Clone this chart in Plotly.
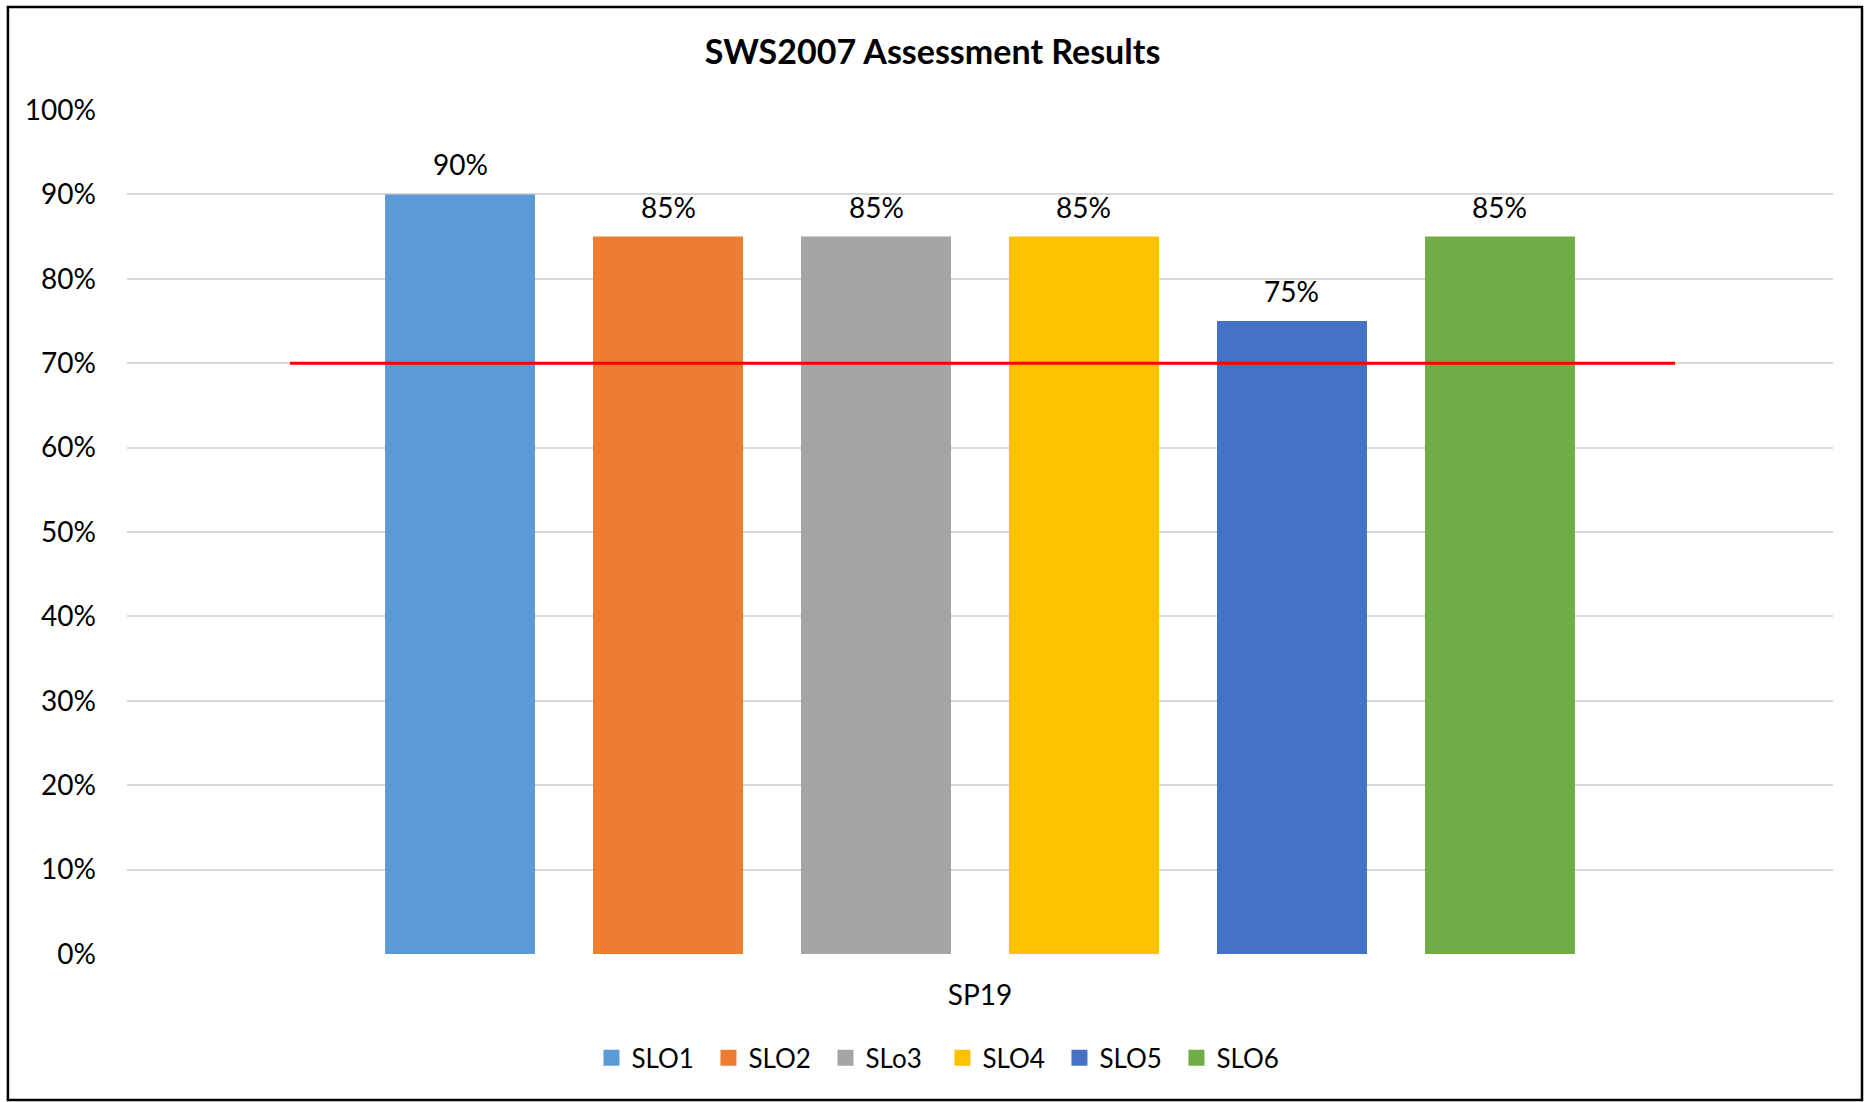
import plotly.graph_objects as go

TITLE = "SWS2007 Assessment Results"
CATEGORY = ["SP19"]
SERIES = ["SLO1", "SLO2", "SLo3", "SLO4", "SLO5", "SLO6"]
VALUES = [0.90, 0.85, 0.85, 0.85, 0.75, 0.85]
TARGET = 0.70
Y_TICKS = [0, 0.1, 0.2, 0.3, 0.4, 0.5, 0.6, 0.7, 0.8, 0.9, 1.0]

COLORS = ["#5B9BD5", "#ED7D31", "#A5A5A5", "#FFC000", "#4472C4", "#70AD47"]
FONT = "Lato, 'Open Sans', sans-serif"

W, H = 1865, 1102
ML, MR, MT, MB = 127, 32, 110, 148
BARGAP = 0.2685
# pixel width of one bar slot inside the group, used to place value labels
slot = (W - ML - MR) * (1 - BARGAP) / len(SERIES)

fig = go.Figure()

for i, (name, val, color) in enumerate(zip(SERIES, VALUES, COLORS)):
    fig.add_trace(go.Bar(
        x=CATEGORY, y=[val], name=name, showlegend=False,
        marker=dict(color=color, line=dict(width=0)),
    ))
    # legend entry with a square swatch
    fig.add_trace(go.Scatter(
        x=[None], y=[None], name=name, mode="markers",
        marker=dict(symbol="square", size=18, color=color),
    ))
    fig.add_annotation(
        x=CATEGORY[0], y=val, text=f"{val:.0%}", showarrow=False,
        xshift=(i - (len(SERIES) - 1) / 2) * slot, yshift=30,
        yanchor="middle", font=dict(size=28, family=FONT, color="#000000"),
    )

# target line
fig.add_hline(y=TARGET, x0=0.0955, x1=0.9074,
              line=dict(color="#FF0000", width=3), layer="above")

# outer chart border
fig.add_shape(type="rect", xref="paper", yref="paper",
              x0=-0.0698, x1=1.017, y0=-0.173, y1=1.122,
              line=dict(color="#000000", width=2.5), layer="below")

fig.update_layout(
    width=W, height=H,
    margin=dict(l=ML, r=MR, t=MT, b=MB),
    paper_bgcolor="white", plot_bgcolor="white",
    barmode="group", bargap=BARGAP, bargroupgap=0.279,
    font=dict(family=FONT, size=26, color="#000000"),
    title=dict(text="<b>" + TITLE + "</b>", x=0.5, xanchor="center",
               y=0.953, yanchor="middle",
               font=dict(size=34, family=FONT, color="#000000")),
    xaxis=dict(showgrid=False, zeroline=False, showline=False,
               ticklabelstandoff=22, tickfont=dict(size=28)),
    yaxis=dict(range=[0, 1], tickvals=Y_TICKS, tickformat=".0%",
               showgrid=True, gridcolor="#D9D9D9", gridwidth=1.5,
               zeroline=False, showline=False, ticklabelstandoff=30,
               tickfont=dict(size=28)),
    legend=dict(orientation="h", x=0.478, xanchor="center", y=-0.123,
                yanchor="middle", font=dict(size=26),
                itemwidth=30, entrywidth=72, traceorder="normal"),
    showlegend=True,
)

fig.write_html("out.html", config={"displayModeBar": False},
               post_script="document.body.style.margin='0';")
